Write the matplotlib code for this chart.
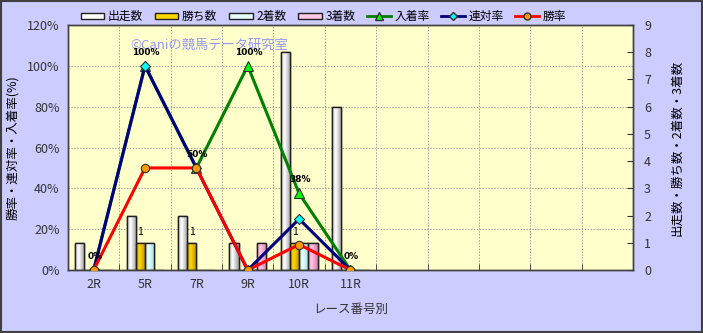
import matplotlib
matplotlib.use("Agg")
import matplotlib.pyplot as plt
import numpy as np
from matplotlib.colors import LinearSegmentedColormap
from matplotlib.lines import Line2D
from matplotlib.patches import Patch, Rectangle

plt.rcParams["font.family"] = ["Noto Sans CJK JP", "DejaVu Sans"]

# ---- data -----------------------------------------------------------------
races = ["2R", "5R", "7R", "9R", "10R", "11R", "", "", "", "", ""]
runs = [1, 2, 2, 1, 8, 6]        # 出走数
wins = [0, 1, 1, 0, 1, 0]        # 勝ち数
seconds = [0, 1, 0, 0, 1, 0]     # 2着数
thirds = [0, 0, 0, 1, 1, 0]      # 3着数
place_rate = [0, 100, 50, 100, 37.5, 0]   # 入着率
quinella_rate = [0, 100, 50, 0, 25, 0]    # 連対率
win_rate = [0, 50, 50, 0, 12.5, 0]        # 勝率
place_labels = ["0%", "100%", "50%", "100%", "38%", "0%"]

BG = "#CCCCFF"
PLOT_BG = "#FFFFCC"

bar_series = [
    ("出走数", runs, "#FFFFFF", "#9A9A9A"),
    ("勝ち数", wins, "#FFD700", "#B88A00"),
    ("2着数", seconds, "#E8FFFF", "#9ADADA"),
    ("3着数", thirds, "#FFC8E4", "#D87AAA"),
]
line_series = [
    ("入着率", place_rate, "#008000", "^", "#00FF00", 7),
    ("連対率", quinella_rate, "#000080", "D", "#00FFFF", 5),
    ("勝率", win_rate, "#FF0000", "o", "#FF9900", 6),
]

fig = plt.figure(figsize=(7.03, 3.33), dpi=100, facecolor=BG)
ax = fig.add_axes([0.0967, 0.189, 0.8037, 0.736])
ax2 = ax.twinx()
ax.set_zorder(ax2.get_zorder() + 1)
ax.patch.set_visible(False)
ax2.patch.set_visible(True)
ax2.patch.set_facecolor(PLOT_BG)

n = len(races)
x = np.arange(n)
ax.set_xlim(-0.5, n - 0.5)
ax.set_ylim(0, 120)
ax2.set_ylim(0, 9)

# grid (behind bars)
for v in np.arange(20, 120, 20):
    ax2.axhline(v * 9 / 120, color="#A0A0A0", lw=0.7, ls=(0, (1.5, 1.5)), zorder=0)
for b in np.arange(0.5, n - 0.5, 1):
    ax2.axvline(b, color="#A0A0A0", lw=0.7, ls=(0, (1.5, 1.5)), zorder=0)

# bars with cylinder-like gradient
width = 0.18
xs = np.arange(len(runs))
grad = np.abs(np.linspace(-1, 1, 64) + 0.25).reshape(1, -1)
for i, (name, vals, light, dark) in enumerate(bar_series):
    offs = (i - 1.5) * width
    bars = ax2.bar(xs + offs, vals, width, color=light, edgecolor="#202020",
                   lw=1.0, zorder=2)
    cmap = LinearSegmentedColormap.from_list(name, [light, dark])
    for p in bars:
        if p.get_height() <= 0:
            continue
        im = ax2.imshow(grad, cmap=cmap, aspect="auto", zorder=2.1,
                        vmin=0, vmax=1.25,
                        extent=(p.get_x(), p.get_x() + p.get_width(),
                                0, p.get_height()))
        im.set_clip_path(p)
        edge = Rectangle((p.get_x(), 0), p.get_width(), p.get_height(),
                         fill=False, ec="#202020", lw=1.0, zorder=2.2)
        ax2.add_patch(edge)
ax2.set_xlim(-0.5, n - 0.5)
ax2.set_ylim(0, 9)

for xi, w in zip(xs, wins):
    if w > 0:
        ax2.text(xi - 0.5 * width, w + 0.2, str(w), ha="center", va="bottom",
                 fontsize=7.5, zorder=3)

# lines
for name, vals, col, mk, mfc, ms in line_series:
    ax.plot(xs, vals, color=col, lw=2.2, marker=mk, ms=ms, mfc=mfc,
            mec="#303030", mew=0.8, zorder=4)

for xi, v, lab in zip(xs, place_rate, place_labels):
    ax.text(xi + 0.02, v + 4.5, lab, ha="center", va="bottom", fontsize=6.5,
            fontweight="bold", family="DejaVu Sans", zorder=5)

# axes styling
ax.set_xticks(x)
ax.set_xticklabels(races)
ax.set_xticks(np.arange(-0.5, n, 1), minor=True)
ax.tick_params(axis="x", which="major", length=0, pad=6, labelsize=9,
               labelcolor="#333333")
ax.tick_params(axis="x", which="minor", length=4, direction="in", color="#333333")
ax.set_yticks(np.arange(0, 121, 20))
ax.set_yticklabels([f"{v}%" for v in range(0, 121, 20)])
ax.tick_params(axis="y", length=0, pad=6, labelsize=9, labelcolor="#333333")
ax2.set_yticks(range(10))
ax2.tick_params(axis="y", length=4, direction="in", pad=8, labelsize=9,
                labelcolor="#333333", color="#333333")
for a in (ax, ax2):
    for s in a.spines.values():
        s.set_color("#404040")
        s.set_linewidth(1.0)

ax.set_ylabel("勝率・連対率・入着率(%)", fontsize=9, labelpad=6)
ax2.set_ylabel("出走数・勝ち数・2着数・3着数", fontsize=9, rotation=90,
               labelpad=14)
ax.set_xlabel("レース番号別", fontsize=9, color="#333333", labelpad=8)

ax.text(0.11, 0.915, "©Caniの競馬データ研究室", transform=ax.transAxes,
        fontsize=9.5, color="#8C8CFF", alpha=0.9, ha="left", va="center",
        zorder=1)

# legend
handles = [Patch(facecolor=light, edgecolor="#202020", label=name)
           for name, _, light, _ in bar_series]
handles += [Line2D([0], [0], color=col, lw=2, marker=mk, ms=ms - 1, mfc=mfc,
                   mec="#303030", label=name)
            for name, _, col, mk, mfc, ms in line_series]
fig.legend(handles=handles, loc="center", bbox_to_anchor=(0.46, 0.95),
           ncol=7, frameon=False, fontsize=8.5, handlelength=2.0,
           handletextpad=0.3, columnspacing=1.0, handleheight=0.5)

fig.add_artist(Rectangle((0.001, 0.002), 0.997, 0.995, transform=fig.transFigure,
                         fill=False, ec="#404040", lw=1.5))

fig.savefig("out.png", dpi=100, facecolor=BG)
